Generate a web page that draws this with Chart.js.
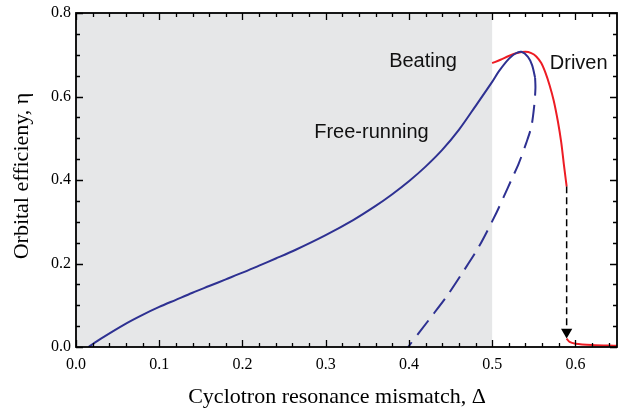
<!DOCTYPE html>
<html lang="en">
<head>
<meta charset="UTF-8">
<title>Orbital efficiency vs mismatch</title>
<script src="https://cdn.jsdelivr.net/npm/chart.js"></script>
<style>
    body { margin: 0; padding: 0; background: #fff; overflow: hidden; }
    canvas { display: block; }
</style>
</head>
<body>
<canvas id="chart" width="619" height="412" style="width:619px;height:412px"></canvas>
<script>
// ---- data ----
const freeX = [0.015, 0.03, 0.06, 0.08, 0.1, 0.12, 0.14, 0.16, 0.18, 0.2, 0.22, 0.24, 0.264, 0.3, 0.333, 0.36, 0.38, 0.4, 0.42, 0.44, 0.46, 0.48, 0.5, 0.508, 0.52, 0.528, 0.535, 0.543, 0.548, 0.5516];
const freeY = [0.0, 0.02, 0.056, 0.077, 0.096, 0.113, 0.13, 0.146, 0.162, 0.178, 0.195, 0.212, 0.233, 0.268, 0.304, 0.338, 0.366, 0.397, 0.432, 0.472, 0.52, 0.577, 0.635, 0.66, 0.69, 0.703, 0.707, 0.695, 0.675, 0.645];

const unstableX = [0.5516, 0.552, 0.5504, 0.547, 0.541, 0.532, 0.523, 0.514, 0.505, 0.484, 0.464, 0.445, 0.424, 0.399];
const unstableY = [0.645, 0.62, 0.575, 0.527, 0.489, 0.44, 0.40, 0.36, 0.321, 0.24, 0.177, 0.12, 0.065, 0.0];

const drivenX = [0.5, 0.51, 0.52, 0.53, 0.54, 0.547, 0.553, 0.559, 0.564, 0.569, 0.574, 0.579, 0.583, 0.586, 0.5885, 0.5895];
const drivenY = [0.68, 0.688, 0.697, 0.704, 0.707, 0.704, 0.696, 0.68, 0.657, 0.627, 0.59, 0.54, 0.49, 0.44, 0.40, 0.385];

const drivenLowX = [0.5895, 0.593, 0.6, 0.62, 0.65];
const drivenLowY = [0.02, 0.012, 0.008, 0.005, 0.003];

const jumpX = [0.5895, 0.5895];
const jumpY = [0.385, 0.036];

const beatingRange = [0.0, 0.5];

const xTicks = [0, 0.1, 0.2, 0.3, 0.4, 0.5, 0.6];
const xTickLabels = ['0.0', '0.1', '0.2', '0.3', '0.4', '0.5', '0.6'];
const yTicks = [0, 0.2, 0.4, 0.6, 0.8];
const yTickLabels = ['0.0', '0.2', '0.4', '0.6', '0.8'];

const noteTexts = ['Beating', 'Driven', 'Free-running'];
const noteX = [0.417, 0.604, 0.355];
const noteY = [0.685, 0.68, 0.513];

const xTitle = 'Cyclotron resonance mismatch, \u0394';
const yTitle = 'Orbital efficieny, \u03b7';

const BLUE = '#2e3192';
const RED = '#ed1c24';
const SERIF = "'Liberation Serif', 'Times New Roman', serif";
const SANS = "'Liberation Sans', Arial, sans-serif";

function pts(xs, ys) {
    return xs.map((x, i) => ({ x: x, y: ys[i] }));
}

// grey band behind the beating regime
const shadePlugin = {
    id: 'shade',
    beforeDatasetsDraw(chart) {
        const { ctx, chartArea, scales } = chart;
        const x0 = scales.x.getPixelForValue(beatingRange[0]);
        const x1 = scales.x.getPixelForValue(beatingRange[1]);
        ctx.save();
        ctx.fillStyle = '#e6e7e8';
        ctx.fillRect(x0, chartArea.top, x1 - x0, chartArea.bottom - chartArea.top);
        ctx.restore();
    }
};

// box frame with inward ticks on all four sides, notes and axis titles
const framePlugin = {
    id: 'frame',
    afterDraw(chart) {
        const { ctx, chartArea, scales } = chart;
        const { left, right, top, bottom } = chartArea;
        ctx.save();
        ctx.strokeStyle = '#000';
        ctx.lineWidth = 1.3;
        ctx.beginPath();
        for (let v = 0; v <= 0.6501; v += 0.02) {
            const px = Math.round(scales.x.getPixelForValue(v)) + 0.5;
            const major = Math.abs(v * 10 - Math.round(v * 10)) < 1e-6;
            const len = major ? 7 : 4;
            ctx.moveTo(px, bottom); ctx.lineTo(px, bottom - len);
            ctx.moveTo(px, top); ctx.lineTo(px, top + len);
        }
        for (let v = 0; v <= 0.8001; v += 0.05) {
            const py = Math.round(scales.y.getPixelForValue(v)) + 0.5;
            const major = Math.abs(v * 5 - Math.round(v * 5)) < 1e-6;
            const len = major ? 7 : 4;
            ctx.moveTo(left, py); ctx.lineTo(left + len, py);
            ctx.moveTo(right, py); ctx.lineTo(right - len, py);
        }
        ctx.stroke();
        ctx.lineWidth = 1.8;
        ctx.strokeRect(left, top, right - left, bottom - top);

        ctx.fillStyle = '#111';
        ctx.font = '20px ' + SANS;
        ctx.textAlign = 'center';
        ctx.textBaseline = 'middle';
        noteTexts.forEach((t, i) => {
            ctx.fillText(t, scales.x.getPixelForValue(noteX[i]), scales.y.getPixelForValue(noteY[i]));
        });

        ctx.fillStyle = '#000';
        ctx.font = '22px ' + SERIF;
        ctx.textBaseline = 'alphabetic';
        ctx.fillText(xTitle, 337, 403);
        ctx.translate(22, 176);
        ctx.rotate(-Math.PI / 2);
        ctx.textBaseline = 'middle';
        ctx.fillText(yTitle, 0, 0);
        ctx.restore();
    }
};

const hiddenGrid = { display: true, drawOnChartArea: false, drawTicks: false, lineWidth: 0 };

new Chart(document.getElementById('chart'), {
    type: 'scatter',
    data: {
        datasets: [
            { data: pts(freeX, freeY), borderColor: BLUE, borderWidth: 2, showLine: true, tension: 0.3, pointRadius: 0 },
            { data: pts(unstableX, unstableY), borderColor: BLUE, borderWidth: 2, borderDash: [18, 9], showLine: true, tension: 0.3, pointRadius: 0 },
            { data: pts(drivenX, drivenY), borderColor: RED, borderWidth: 2, showLine: true, tension: 0.3, pointRadius: 0 },
            { data: pts(drivenLowX, drivenLowY), borderColor: RED, borderWidth: 2, showLine: true, tension: 0.3, pointRadius: 0 },
            {
                data: pts(jumpX, jumpY), borderColor: '#000', borderWidth: 1.5, borderDash: [7, 4], showLine: true,
                pointRadius: [0, 6.5], pointStyle: 'triangle', pointRotation: 180,
                pointBackgroundColor: '#000', pointBorderColor: '#000', pointBorderWidth: 0
            }
        ]
    },
    options: {
        responsive: false,
        animation: false,
        devicePixelRatio: 1,
        layout: { autoPadding: false, padding: { left: 0, top: 13, right: 2, bottom: 0 } },
        plugins: { legend: { display: false }, tooltip: { enabled: false } },
        scales: {
            x: {
                type: 'linear', min: 0, max: 0.65,
                grid: hiddenGrid, border: { display: false },
                afterBuildTicks: (s) => { s.ticks = xTicks.map(v => ({ value: v })); },
                afterFit: (s) => { s.height = 65; s.paddingLeft = 0; s.paddingRight = 0; },
                ticks: {
                    padding: 8, color: '#000', maxRotation: 0, autoSkip: false,
                    font: { family: SERIF, size: 16 },
                    callback: (v) => xTickLabels[xTicks.findIndex(t => Math.abs(t - v) < 1e-9)]
                }
            },
            y: {
                type: 'linear', min: 0, max: 0.8,
                grid: hiddenGrid, border: { display: false },
                afterBuildTicks: (s) => { s.ticks = yTicks.map(v => ({ value: v })); },
                afterFit: (s) => { s.width = 76; s.paddingTop = 0; s.paddingBottom = 0; },
                ticks: {
                    padding: 5, color: '#000', autoSkip: false,
                    font: { family: SERIF, size: 16 },
                    callback: (v) => yTickLabels[yTicks.findIndex(t => Math.abs(t - v) < 1e-9)]
                }
            }
        }
    },
    plugins: [shadePlugin, framePlugin]
});
</script>
</body>
</html>
